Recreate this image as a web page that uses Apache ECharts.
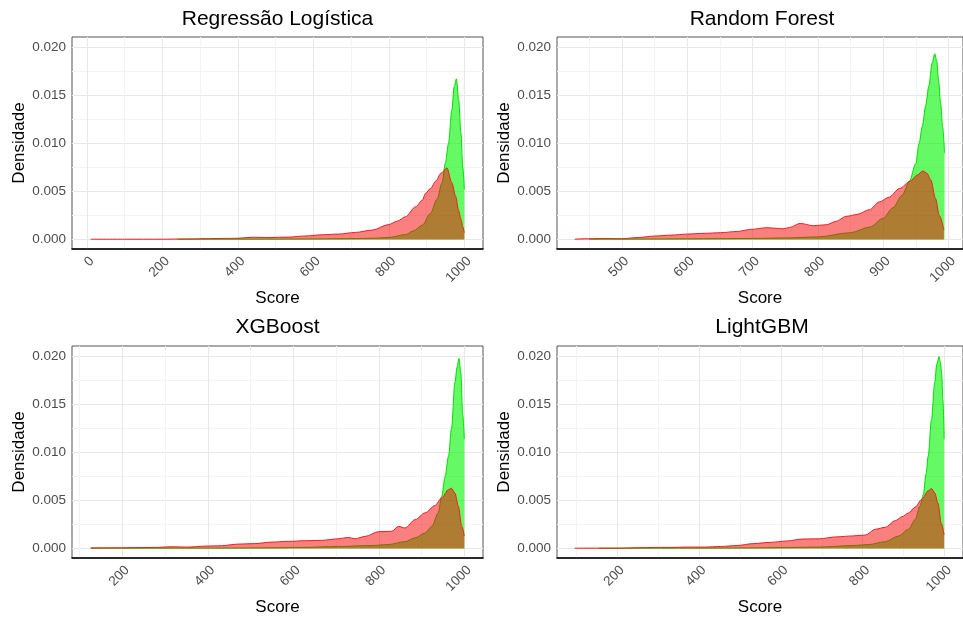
<!DOCTYPE html>
<html><head><meta charset="utf-8">
<script src="https://cdn.jsdelivr.net/npm/echarts@6/dist/echarts.min.js"></script>
<style>html,body{margin:0;padding:0;background:#fff}#c{width:963px;height:619px}</style>
</head><body><div id="c"></div>
<script>
// ---------- data ----------
const panelTitles = ["Regressão Logística", "Random Forest", "XGBoost", "LightGBM"];
const yTicks = [0, 0.005, 0.010, 0.015, 0.020];
const yMinorTicks = [0.0025, 0.0075, 0.0125, 0.0175];
const xTicksLR = [0, 200, 400, 600, 800, 1000];
const xMinorLR = [100, 300, 500, 700, 900];
const xTicksRF = [500, 600, 700, 800, 900, 1000];
const xMinorRF = [450, 550, 650, 750, 850, 950];
const xTicksXGB = [200, 400, 600, 800, 1000];
const xMinorXGB = [100, 300, 500, 700, 900];
const xTicksLGBM = [200, 400, 600, 800, 1000];
const xMinorLGBM = [100, 300, 500, 700, 900];

// Regressão Logística
const lrGreenX = [240, 300, 400, 500, 545, 600, 700, 756, 800, 844, 866, 889, 910, 928, 941, 950, 958, 967, 973, 979, 985, 991, 996, 1000];
const lrGreenY = [0.00003, 0.00003, 0.00003, 0.00003, 0.00004, 0.00005, 0.00008, 0.00012, 0.0002, 0.0005, 0.0009, 0.0015, 0.0027, 0.0042, 0.0059, 0.0080, 0.0100, 0.0135, 0.0159, 0.01674, 0.0146, 0.0111, 0.0075, 0.0052];
const lrRedX = [10, 100, 200, 243, 280, 314, 360, 400, 437, 480, 535, 579, 623, 667, 712, 756, 800, 822, 844, 871, 889, 897, 910, 925, 938, 954, 967, 977, 985, 991, 996, 1000];
const lrRedY = [0.00002, 0.00002, 0.00002, 0.00004, 0.00005, 0.00008, 0.0001, 0.00012, 0.00022, 0.0002, 0.00024, 0.00036, 0.00048, 0.00056, 0.00073, 0.00097, 0.00155, 0.0019, 0.00236, 0.0034, 0.0041, 0.0048, 0.0053, 0.0061, 0.0069, 0.00745, 0.0059, 0.0045, 0.0030, 0.0021, 0.0013, 0.0007];

// Random Forest
const rfGreenX = [450, 500, 550, 600, 650, 700, 750, 800, 850, 880, 900, 915, 929, 940, 950, 955, 960, 965, 970, 975, 979, 982, 985, 988, 991, 994];
const rfGreenY = [0.00002, 0.00003, 0.00004, 0.00006, 0.00008, 0.0001, 0.00015, 0.00026, 0.0007, 0.0013, 0.0022, 0.0033, 0.0046, 0.0060, 0.0079, 0.0100, 0.0118, 0.0139, 0.0160, 0.0184, 0.01935, 0.0186, 0.0165, 0.0142, 0.0118, 0.0090];
const rfRedX = [428, 449, 475, 500, 525, 550, 576, 601, 626, 651, 677, 697, 722, 747, 757, 773, 793, 813, 828, 843, 860, 879, 894, 909, 925, 942, 952, 961, 967, 973, 980, 986, 993];
const rfRedY = [0.00003, 0.00007, 0.0001, 0.00007, 0.0002, 0.00035, 0.00045, 0.00056, 0.00063, 0.0007, 0.00083, 0.00104, 0.00122, 0.00111, 0.00125, 0.00167, 0.00143, 0.00153, 0.00188, 0.0024, 0.0026, 0.0031, 0.0039, 0.0044, 0.0053, 0.0061, 0.0067, 0.00714, 0.0069, 0.0062, 0.0043, 0.0025, 0.0010];

// XGBoost
const xgbGreenX = [126, 200, 300, 400, 475, 550, 620, 705, 783, 822, 861, 885, 908, 924, 939, 947, 955, 963, 970, 978, 983, 987.5, 992, 996, 1000];
const xgbGreenY = [0.00002, 0.00002, 0.00003, 0.00003, 0.00004, 0.00006, 0.0001, 0.0002, 0.0003, 0.0004, 0.0007, 0.0011, 0.0016, 0.0023, 0.0037, 0.0054, 0.0075, 0.0096, 0.0125, 0.0173, 0.0189, 0.0198, 0.0183, 0.0141, 0.0114];
const xgbRedX = [126, 160, 198, 240, 276, 315, 354, 393, 432, 471, 510, 549, 588, 627, 666, 705, 729, 744, 768, 799, 830, 846, 861, 885, 908, 931, 947, 963, 970, 978, 986, 994, 1000];
const xgbRedY = [0.00005, 0.00006, 0.00007, 0.00009, 0.0001, 0.00017, 0.00014, 0.00024, 0.00028, 0.00045, 0.0005, 0.00066, 0.00073, 0.0008, 0.00084, 0.001, 0.00115, 0.001, 0.00125, 0.00174, 0.00178, 0.0023, 0.00213, 0.0030, 0.0037, 0.00446, 0.00526, 0.00613, 0.00627, 0.00578, 0.0044, 0.0023, 0.0013];

// LightGBM
const lgbmGreenX = [155, 250, 350, 450, 513, 600, 694, 775, 815, 855, 888, 912, 928, 940, 948, 955, 960, 968, 976, 981, 986.5, 990, 993, 996, 999];
const lgbmGreenY = [0.00002, 0.00003, 0.00003, 0.00004, 0.00005, 0.00008, 0.00014, 0.0003, 0.0004, 0.0007, 0.0013, 0.0020, 0.0030, 0.0044, 0.0056, 0.0078, 0.0096, 0.0134, 0.0173, 0.0192, 0.0200, 0.0194, 0.0182, 0.0155, 0.0114];
const lgbmRedX = [96, 155, 211, 251, 292, 332, 372, 413, 453, 493, 533, 574, 614, 654, 694, 735, 775, 807, 831, 855, 880, 896, 912, 928, 944, 960, 968, 976, 984, 992, 999];
const lgbmRedY = [0.00002, 0.00003, 0.00003, 0.00007, 0.0001, 0.0001, 0.00014, 0.00014, 0.0002, 0.0003, 0.0005, 0.00063, 0.00077, 0.00098, 0.0010, 0.0012, 0.0013, 0.0014, 0.0020, 0.0022, 0.0029, 0.0033, 0.0037, 0.0043, 0.0051, 0.0060, 0.00624, 0.0058, 0.0047, 0.0026, 0.0014];

// ---------- layout / style ----------
const FONT = '"Liberation Sans", Arial, sans-serif';
const panels = [
  {title: panelTitles[0], gx: lrGreenX, gy: lrGreenY, rx: lrRedX, ry: lrRedY, ticks: xTicksLR, minor: xMinorLR, xmin: -39.5, xmax: 1049.5,
   grid: {left: 72, top: 37, width: 411, height: 212}, tcx: 277.5, tty: 9},
  {title: panelTitles[1], gx: rfGreenX, gy: rfGreenY, rx: rfRedX, ry: rfRedY, ticks: xTicksRF, minor: xMinorRF, xmin: 400.75, xmax: 1022.25,
   grid: {left: 557, top: 37, width: 410, height: 212}, tcx: 762, tty: 9},
  {title: panelTitles[2], gx: xgbGreenX, gy: xgbGreenY, rx: xgbRedX, ry: xgbRedY, ticks: xTicksXGB, minor: xMinorXGB, xmin: 82.3, xmax: 1043.7,
   grid: {left: 72, top: 346, width: 411, height: 212}, tcx: 277.5, tty: 317},
  {title: panelTitles[3], gx: lgbmGreenX, gy: lgbmGreenY, rx: lgbmRedX, ry: lgbmRedY, ticks: xTicksLGBM, minor: xMinorLGBM, xmin: 52.9, xmax: 1045.1,
   grid: {left: 557, top: 346, width: 410, height: 212}, tcx: 762, tty: 317}
];
const YMIN = -0.001, YMAX = 0.0211;

const grids = [], xAxes = [], yAxes = [], series = [], titles = [];
panels.forEach((p, i) => {
  grids.push(Object.assign({show: true, borderColor: '#555', borderWidth: 1, backgroundColor: '#fff'}, p.grid));
  titles.push({text: p.title, left: p.tcx, top: p.tty, textAlign: 'center', padding: 0,
    textStyle: {fontFamily: FONT, fontSize: 21, fontWeight: 'normal', color: '#000'}});
  xAxes.push({gridIndex: i, type: 'value', min: p.xmin, max: p.xmax, position: 'bottom',
    axisLine: {show: true, onZero: false, lineStyle: {color: '#000', width: 1.6}},
    axisTick: {show: false, customValues: p.ticks},
    axisLabel: {customValues: p.ticks, rotate: 45, margin: 5, align: 'right', verticalAlign: 'top',
      color: '#4d4d4d', fontSize: 13.5, fontFamily: FONT, formatter: v => String(v)},
    splitLine: {show: true, lineStyle: {color: '#e8e8e8', width: 1.1}},
    name: 'Score', nameLocation: 'middle', nameGap: 41,
    nameTextStyle: {color: '#000', fontSize: 17, fontFamily: FONT}});
  xAxes.push({gridIndex: i, type: 'value', min: p.xmin, max: p.xmax, position: 'top',
    axisLine: {show: false}, axisTick: {show: false, customValues: p.minor},
    axisLabel: {show: false}, splitLine: {show: true, lineStyle: {color: '#f3f3f3', width: 1}}});
  yAxes.push({gridIndex: i, type: 'value', min: YMIN, max: YMAX, position: 'left',
    axisLine: {show: false}, axisTick: {show: false, customValues: yTicks},
    axisLabel: {customValues: yTicks, margin: 6, color: '#4d4d4d', fontSize: 13.5, fontFamily: FONT,
      formatter: v => v.toFixed(3)},
    splitLine: {show: true, lineStyle: {color: '#e8e8e8', width: 1.1}},
    name: 'Densidade', nameLocation: 'middle', nameGap: 44,
    nameTextStyle: {color: '#000', fontSize: 17, fontFamily: FONT}});
  yAxes.push({gridIndex: i, type: 'value', min: YMIN, max: YMAX, position: 'right',
    axisLine: {show: false}, axisTick: {show: false, customValues: yMinorTicks},
    axisLabel: {show: false}, splitLine: {show: true, lineStyle: {color: '#f3f3f3', width: 1}}});

  series.push({type: 'line', xAxisIndex: 2 * i, yAxisIndex: 2 * i, symbol: 'none', smooth: 0.3, smoothMonotone: 'x',
    data: p.gx.map((x, k) => [x, p.gy[k]]),
    lineStyle: {color: '#00e000', width: 1}, areaStyle: {color: 'rgba(0,245,0,0.6)', opacity: 1, origin: 0}, z: 3});
  series.push({type: 'line', xAxisIndex: 2 * i, yAxisIndex: 2 * i, symbol: 'none', smooth: 0.3, smoothMonotone: 'x',
    data: p.rx.map((x, k) => [x, p.ry[k]]),
    lineStyle: {color: '#ee2020', width: 1}, areaStyle: {color: 'rgba(245,0,0,0.5)', opacity: 1, origin: 0}, z: 4});
});

const chart = echarts.init(document.getElementById('c'), null, {renderer: 'canvas'});
chart.setOption({
  animation: false,
  textStyle: {fontFamily: FONT},
  title: titles, grid: grids, xAxis: xAxes, yAxis: yAxes, series: series
});
</script></body></html>
